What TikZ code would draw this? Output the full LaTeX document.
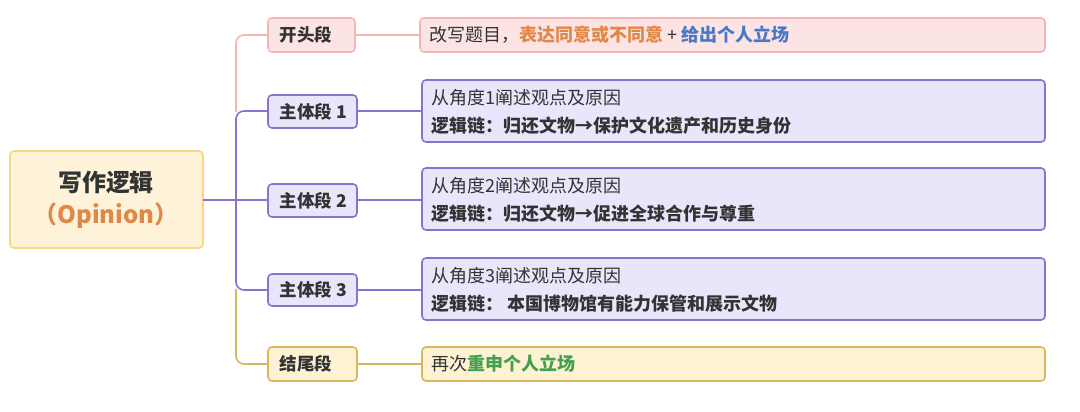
\documentclass[tikz,border=0pt]{standalone}
\usepackage{fontspec}
\setmainfont{Noto Sans CJK SC}
\definecolor{pinkF}{HTML}{FDE4E4}\definecolor{pinkD}{HTML}{F5B5B5}
\definecolor{purF}{HTML}{E9E6FB}\definecolor{purD}{HTML}{8C72D0}
\definecolor{yelF}{HTML}{FDF3D4}\definecolor{yelD}{HTML}{D8B65C}
\definecolor{rootF}{HTML}{FEF3D8}\definecolor{rootD}{HTML}{F7D87E}
\definecolor{orangeT}{HTML}{E0884A}\definecolor{blueT}{HTML}{4A78C8}\definecolor{greenT}{HTML}{45A04E}
\definecolor{txt}{HTML}{333333}
\begin{document}
\begin{tikzpicture}[x=1pt,y=-1pt,
 bx/.style={draw,line width=1.6pt,rounded corners=4pt,inner sep=0pt},
 lab/.style={font=\fontsize{17.5}{20}\selectfont\bfseries,text=txt,anchor=west},
 ct/.style={font=\fontsize{18}{28}\selectfont,text=txt,anchor=west,align=left},
 ln/.style={line width=1.6pt,rounded corners=8pt}]
\useasboundingbox (0,0) rectangle (1080,412);
% root
\draw[bx,fill=rootF,draw=rootD] (10,151) rectangle (203,248);
\node[font=\fontsize{24}{30}\selectfont\bfseries,text=txt,align=center] (root) at (106,200) {写作逻辑\\[2pt]{\color{orangeT}（Opinion）}};
\coordinate (rr) at (203,200);
% connectors
\draw[ln,pinkD] (236,112) -- (236,35) -- (268,35);
\draw[ln,yelD] (236,289) -- (236,364) -- (268,364);
\draw[ln,purD] (236,200) -- (236,111) -- (268,111);
\draw[ln,purD] (236,200) -- (236,290) -- (268,290);
\draw[line width=1.6pt,purD] (rr) -- (268,200);
% level 1
\draw[bx,fill=pinkF,draw=pinkD] (268,18) rectangle (355,52);
\node[lab] (a) at (276,35) {开头段};
\draw[bx,fill=purF,draw=purD] (268,95) rectangle (357,128);
\node[lab] (b) at (276,111.5) {主体段 1};
\draw[bx,fill=purF,draw=purD] (268,184) rectangle (357,217);
\node[lab] (c) at (276,200.5) {主体段 2};
\draw[bx,fill=purF,draw=purD] (268,274) rectangle (357,306);
\node[lab] (d) at (276,290) {主体段 3};
\draw[bx,fill=yelF,draw=yelD] (268,347) rectangle (357,381);
\node[lab] (e) at (276,364) {结尾段};
% links
\draw[line width=1.6pt,pinkD] (355,35) -- (420,35);
\draw[line width=1.6pt,purD] (357,111) -- (422,111);
\draw[line width=1.6pt,purD] (357,200) -- (422,200);
\draw[line width=1.6pt,purD] (357,290) -- (422,290);
\draw[line width=1.6pt,yelD] (357,364) -- (422,364);
% level 2
\draw[bx,fill=pinkF,draw=pinkD] (420,18) rectangle (1045,52);
\node[ct] (a2) at (426,35) {改写题目，{\bfseries\color{orangeT}表达同意或不同意} + {\bfseries\color{blueT}给出个人立场}};
\draw[bx,fill=purF,draw=purD] (422,80) rectangle (1045,142);
\node[ct] (b2) at (428,112) {从角度1阐述观点及原因\\\textbf{逻辑链：归还文物→保护文化遗产和历史身份}};
\draw[bx,fill=purF,draw=purD] (422,168) rectangle (1045,230);
\node[ct] (c2) at (428,200) {从角度2阐述观点及原因\\\textbf{逻辑链：归还文物→促进全球合作与尊重}};
\draw[bx,fill=purF,draw=purD] (422,258) rectangle (1045,320);
\node[ct] (d2) at (428,290) {从角度3阐述观点及原因\\\textbf{逻辑链： 本国博物馆有能力保管和展示文物}};
\draw[bx,fill=yelF,draw=yelD] (422,347) rectangle (1045,381);
\node[ct] (e2) at (428,364) {再次{\bfseries\color{greenT}重申个人立场}};
\end{tikzpicture}
\end{document}
